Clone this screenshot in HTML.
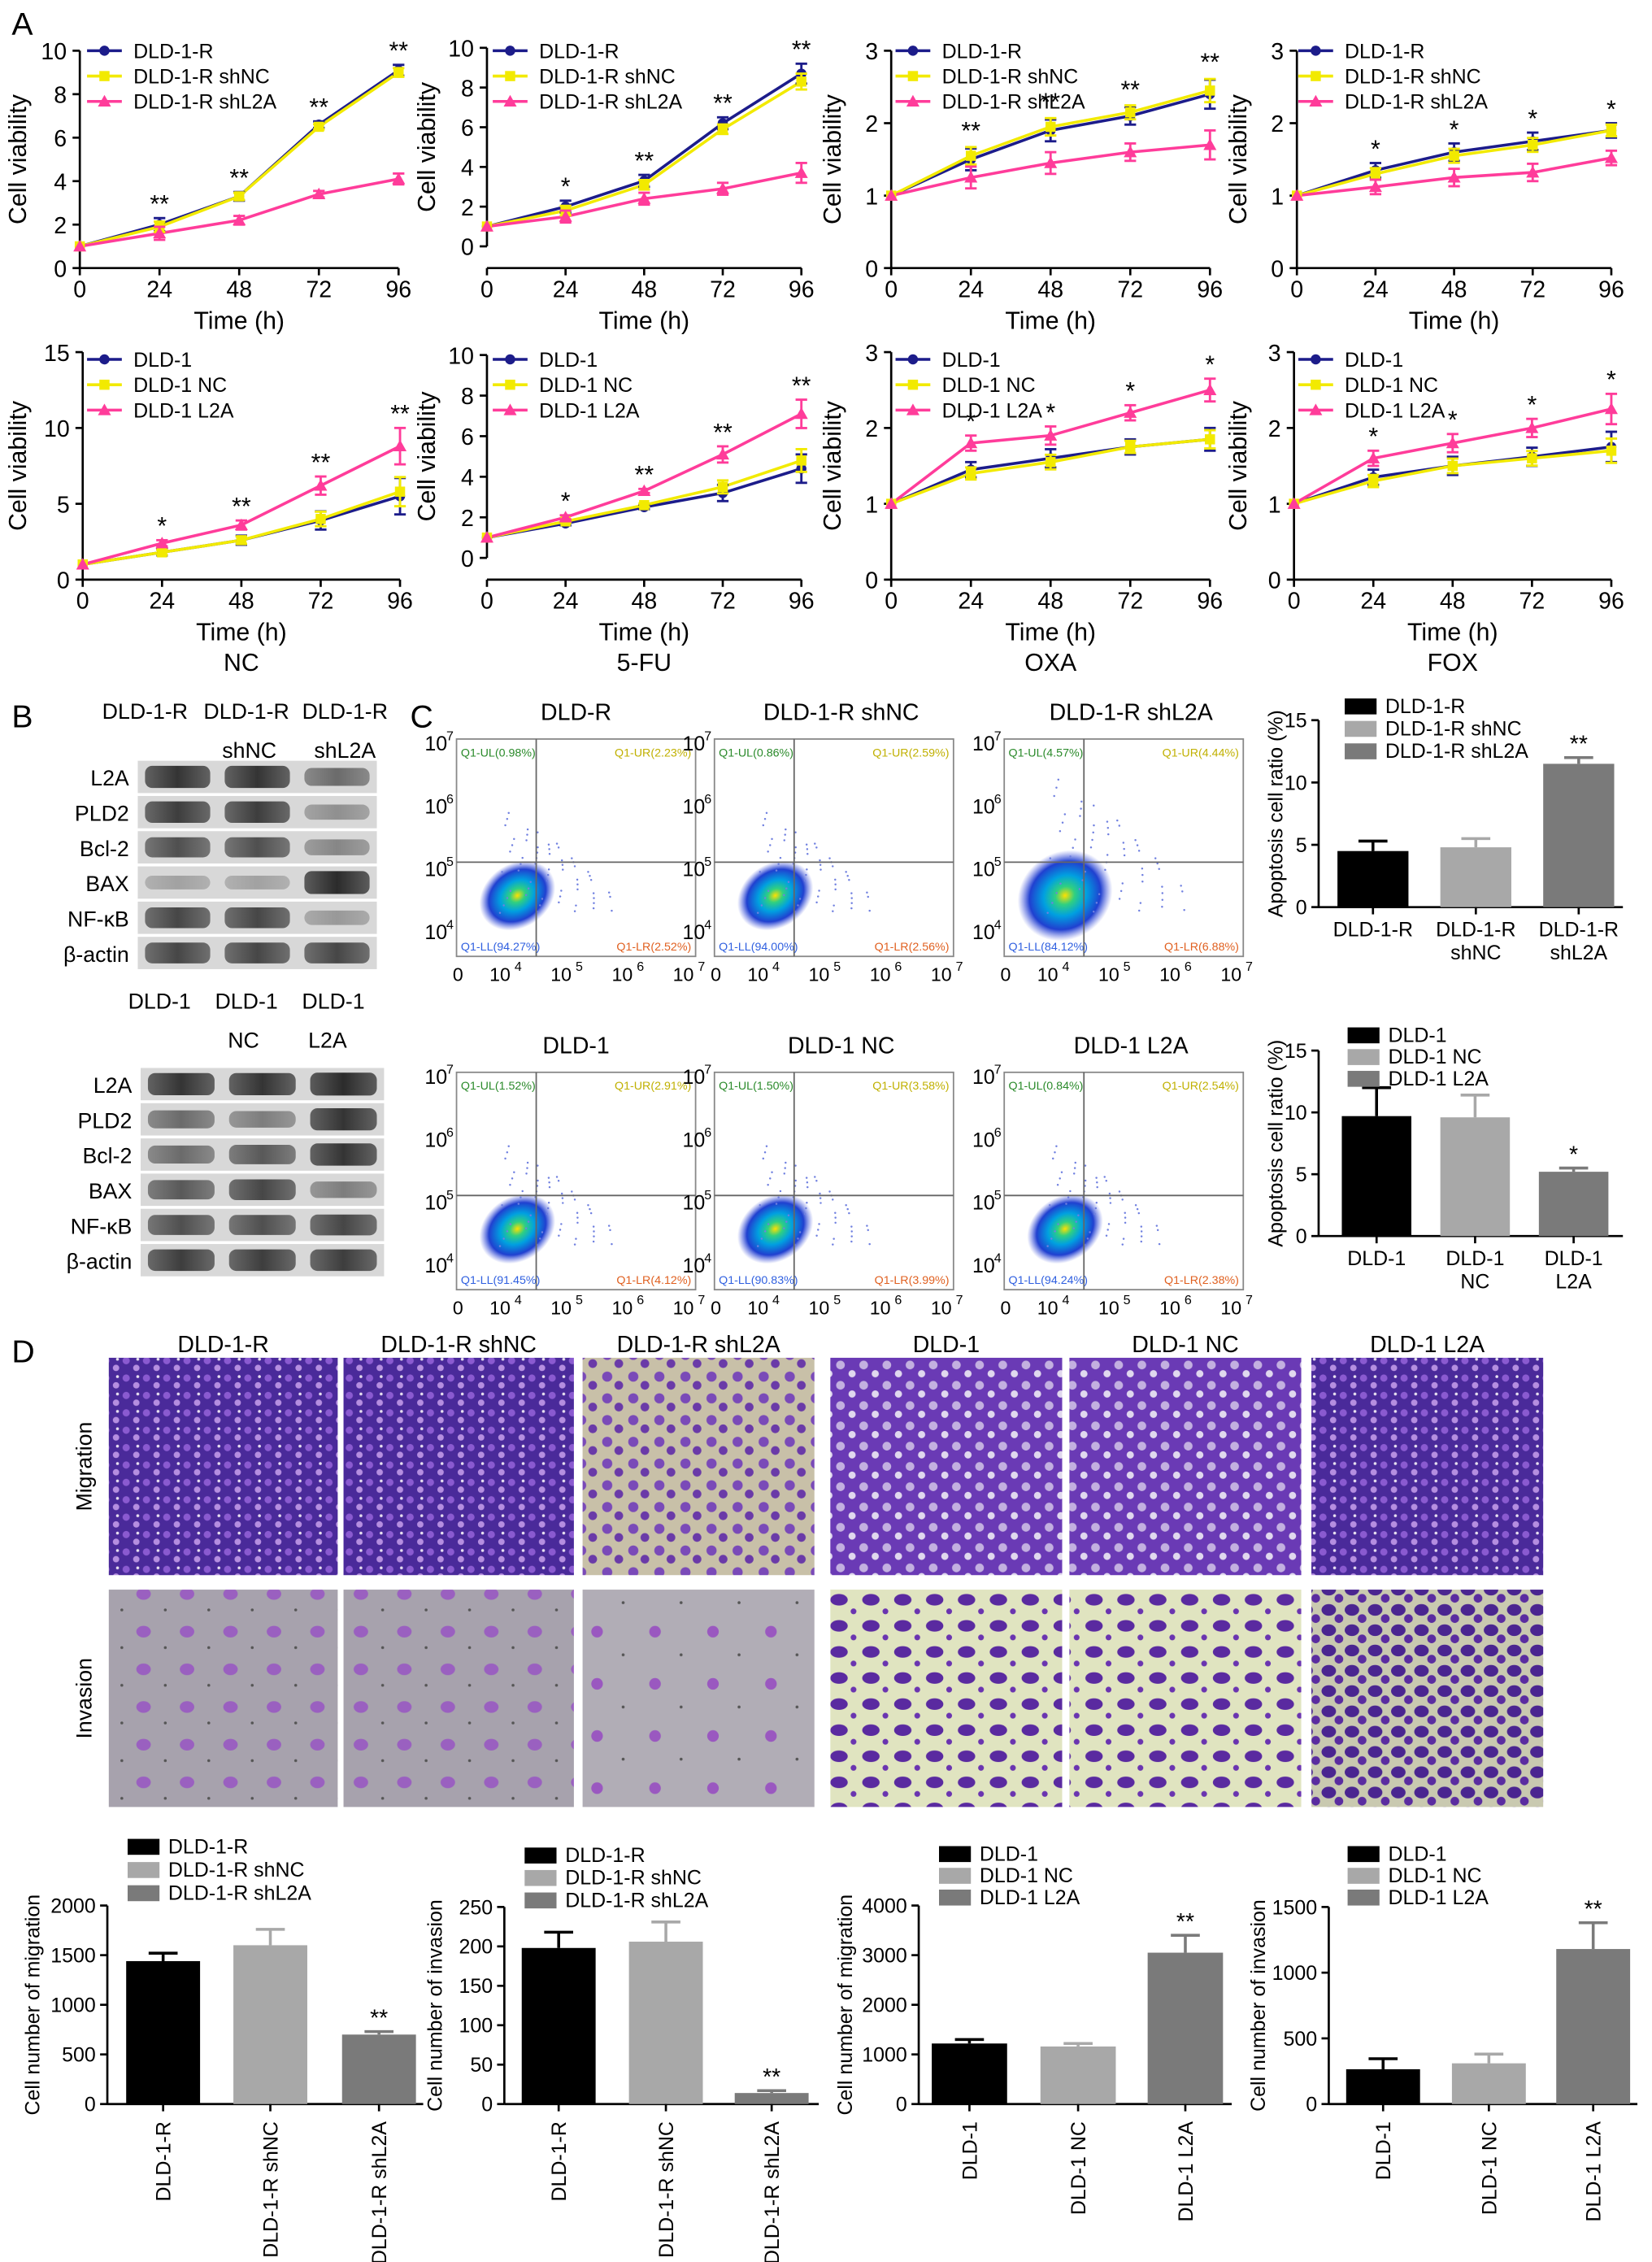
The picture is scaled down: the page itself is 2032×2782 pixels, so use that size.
<!DOCTYPE html>
<html><head><meta charset="utf-8"><style>
html,body{margin:0;padding:0;background:#fff;}
svg{display:block;font-family:"Liberation Sans",sans-serif;}
</style></head><body>
<svg id="fig" width="2032" height="2782" viewBox="0 0 1140 1561" xmlns="http://www.w3.org/2000/svg">
<defs>
<pattern id="densePurple" width="14" height="12" patternUnits="userSpaceOnUse">
<rect width="14" height="12" fill="#4a2a9a"/><circle cx="3" cy="3" r="2.5" fill="#8a5ad0"/><circle cx="10" cy="8" r="2.2" fill="#b58ee0"/><circle cx="11" cy="2" r="1" fill="#e8e0f0"/></pattern>
<pattern id="medPurple" width="16" height="14" patternUnits="userSpaceOnUse">
<rect width="16" height="14" fill="#6a3ab5"/><circle cx="4" cy="4" r="3" fill="#c3b0e0"/><circle cx="12" cy="10" r="2.5" fill="#e0d8ee"/></pattern>
<pattern id="lightPurple" width="18" height="15" patternUnits="userSpaceOnUse">
<rect width="18" height="15" fill="#c8c0a8"/><circle cx="5" cy="5" r="3.5" fill="#7a4ab8"/><circle cx="13" cy="11" r="3" fill="#6a3aa8"/></pattern>
<pattern id="grayInv" width="30" height="26" patternUnits="userSpaceOnUse">
<rect width="30" height="26" fill="#a7a2ad"/><ellipse cx="9" cy="8" rx="5" ry="4" fill="#9a60c0"/><circle cx="24" cy="19" r="1" fill="#555"/></pattern>
<pattern id="grayInvLight" width="40" height="36" patternUnits="userSpaceOnUse">
<rect width="40" height="36" fill="#b1adb6"/><circle cx="12" cy="10" r="4" fill="#9a58c0"/><circle cx="30" cy="26" r="1" fill="#555"/></pattern>
<pattern id="yellowInv" width="22" height="18" patternUnits="userSpaceOnUse">
<rect width="22" height="18" fill="#e0e4c0"/><ellipse cx="7" cy="6" rx="6" ry="4" fill="#5a2aa0"/><circle cx="17" cy="14" r="2" fill="#6a34b0"/></pattern>
<pattern id="yellowInvDense" width="16" height="14" patternUnits="userSpaceOnUse">
<rect width="16" height="14" fill="#c9c9b0"/><ellipse cx="5" cy="5" rx="5" ry="4" fill="#4a2590"/><circle cx="12" cy="11" r="3" fill="#5a2ca0"/></pattern>
<radialGradient id="flowBlob"><stop offset="0" stop-color="#ffe000"/><stop offset="0.2" stop-color="#30d080"/><stop offset="0.45" stop-color="#00a0e0"/><stop offset="0.75" stop-color="#2040d0"/><stop offset="1" stop-color="#5060e0" stop-opacity="0"/></radialGradient>
<linearGradient id="band" x1="0" x2="1"><stop offset="0" stop-color="#555"/><stop offset="0.5" stop-color="#222"/><stop offset="1" stop-color="#555"/></linearGradient>
</defs>
</svg>
<script>
const NS='http://www.w3.org/2000/svg';
const svg=document.getElementById('fig');
function mk(tag,attrs,parent){const e=document.createElementNS(NS,tag);for(const k in attrs)e.setAttribute(k,attrs[k]);(parent||svg).appendChild(e);return e;}
function tx(x,y,s,size,anchor,parent,extra){const e=mk('text',Object.assign({x:x,y:y,'font-size':size,'text-anchor':anchor||'middle',fill:'#000'},extra||{}),parent);e.textContent=s;return e;}

/* ===== Panel A data ===== */
const timePoints=[0,24,48,72,96];
const a1R=[1,2.0,3.3,6.6,9.1], a1NC=[1,1.9,3.3,6.5,9.0], a1KD=[1,1.6,2.2,3.4,4.1], a1Err=[0,0.3,0.2,0.15,0.25], a1Stars=['','**','**','**','**'];
const a2R=[1,2.0,3.3,6.2,8.7], a2NC=[1,1.8,3.1,5.9,8.3], a2KD=[1,1.5,2.4,2.9,3.7], a2Err=[0,0.3,0.3,0.3,0.5], a2Stars=['','*','**','**','**'];
const a3R=[1,1.5,1.9,2.1,2.4], a3NC=[1,1.55,1.95,2.15,2.45], a3KD=[1,1.25,1.45,1.6,1.7], a3Err=[0,0.15,0.15,0.12,0.2], a3Stars=['','**','**','**','**'];
const a4R=[1,1.35,1.6,1.75,1.9], a4NC=[1,1.3,1.55,1.7,1.9], a4KD=[1,1.12,1.25,1.32,1.52], a4Err=[0,0.1,0.12,0.12,0.1], a4Stars=['','*','*','*','*'];
const a5R=[1,1.8,2.6,3.9,5.5], a5NC=[1,1.8,2.6,4.0,5.8], a5KD=[1,2.4,3.6,6.2,8.8], a5Err=[0,0.2,0.3,0.6,1.2], a5Stars=['','*','**','**','**'];
const a6R=[1,1.7,2.5,3.2,4.4], a6NC=[1,1.8,2.6,3.5,4.8], a6KD=[1,2.0,3.3,5.1,7.1], a6Err=[0,0.1,0.1,0.4,0.7], a6Stars=['','*','**','**','**'];
const a7R=[1,1.45,1.6,1.75,1.85], a7NC=[1,1.4,1.55,1.75,1.85], a7KD=[1,1.8,1.9,2.2,2.5], a7Err=[0,0.1,0.12,0.1,0.15], a7Stars=['','*','*','*','*'];
const a8R=[1,1.35,1.5,1.62,1.75], a8NC=[1,1.3,1.5,1.6,1.7], a8KD=[1,1.6,1.8,2.0,2.25], a8Err=[0,0.1,0.12,0.12,0.2], a8Stars=['','*','*','*','*'];
const legendTop=['DLD-1-R','DLD-1-R shNC','DLD-1-R shL2A'];
const legendBottom=['DLD-1','DLD-1 NC','DLD-1 L2A'];
const yTicks10=[0,2,4,6,8,10], yTicks3=[0,1,2,3], yTicks15=[0,5,10,15];
const drugLabels=['NC','5-FU','OXA','FOX'];

const lineColors=['#1c1c8a','#f2ea00','#ff3c9a'];
const lineCharts=[
 {name:'chart-1r-nc',x0:55,x1:275,yz:185,yt:35,ymax:10,ax:185,ticks:yTicks10,s:[a1R,a1NC,a1KD],err:a1Err,stars:a1Stars,leg:legendTop,lx:70,ly:35,ylx:18},
 {name:'chart-1r-5fu',x0:336,x1:553,yz:170,yt:33,ymax:10,ax:185,ticks:yTicks10,s:[a2R,a2NC,a2KD],err:a2Err,stars:a2Stars,leg:legendTop,lx:350,ly:35,ylx:300},
 {name:'chart-1r-oxa',x0:615,x1:835,yz:185,yt:35,ymax:3,ax:185,ticks:yTicks3,s:[a3R,a3NC,a3KD],err:a3Err,stars:a3Stars,leg:legendTop,lx:628,ly:35,ylx:580},
 {name:'chart-1r-fox',x0:895,x1:1112,yz:185,yt:35,ymax:3,ax:185,ticks:yTicks3,s:[a4R,a4NC,a4KD],err:a4Err,stars:a4Stars,leg:legendTop,lx:906,ly:35,ylx:860},
 {name:'chart-1-nc',x0:57,x1:276,yz:400,yt:243,ymax:15,ax:400,ticks:yTicks15,s:[a5R,a5NC,a5KD],err:a5Err,stars:a5Stars,leg:legendBottom,lx:70,ly:248,ylx:18,drug:0},
 {name:'chart-1-5fu',x0:336,x1:553,yz:385,yt:245,ymax:10,ax:400,ticks:yTicks10,s:[a6R,a6NC,a6KD],err:a6Err,stars:a6Stars,leg:legendBottom,lx:350,ly:248,ylx:300,drug:1},
 {name:'chart-1-oxa',x0:615,x1:835,yz:400,yt:243,ymax:3,ax:400,ticks:yTicks3,s:[a7R,a7NC,a7KD],err:a7Err,stars:a7Stars,leg:legendBottom,lx:628,ly:248,ylx:580,drug:2},
 {name:'chart-1-fox',x0:893,x1:1112,yz:400,yt:243,ymax:3,ax:400,ticks:yTicks3,s:[a8R,a8NC,a8KD],err:a8Err,stars:a8Stars,leg:legendBottom,lx:906,ly:248,ylx:860,drug:3}
];
function marker(g,kind,x,y,c){
 if(kind===0)return mk('circle',{cx:x,cy:y,r:3.5,fill:c},g);
 if(kind===1)return mk('rect',{x:x-3.5,y:y-3.5,width:7,height:7,fill:c},g);
 return mk('polygon',{points:`${x},${y-4.5} ${x+4.5},${y+3.5} ${x-4.5},${y+3.5}`,fill:c},g);
}
lineCharts.forEach(c=>{
 const g=mk('g',{});
 
 
 const X=t=>c.x0+(t/96)*(c.x1-c.x0);
 const Y=v=>c.yz-(v/c.ymax)*(c.yz-c.yt);
 mk('line',{x1:c.x0,y1:c.ax,x2:c.x1,y2:c.ax,stroke:'#000','stroke-width':1.5},g);
 mk('line',{x1:c.x0,y1:Y(c.ymax),x2:c.x0,y2:c.yz,stroke:'#000','stroke-width':1.5},g);
 timePoints.forEach(t=>{mk('line',{x1:X(t),y1:c.ax,x2:X(t),y2:c.ax+5,stroke:'#000','stroke-width':1.5},g);
  const l=tx(X(t),c.ax+20,String(t),16,'middle',g);});
 c.ticks.forEach(v=>{mk('line',{x1:c.x0-5,y1:Y(v),x2:c.x0,y2:Y(v),stroke:'#000','stroke-width':1.5},g);
  const l=tx(c.x0-9,Y(v)+6,String(v),16,'end',g);});
 const xt=tx((c.x0+c.x1)/2,c.ax+42,'Time (h)',17,'middle',g);
 
 const my=(Y(c.ymax)+c.yz)/2;
 const yt=tx(c.ylx,my,'Cell viability',17,'middle',g,{transform:`rotate(-90 ${c.ylx} ${my})`});
 
 if(c.drug!==undefined){const d=tx((c.x0+c.x1)/2,c.ax+63,drugLabels[c.drug],17,'middle',g);}
 c.s.forEach((arr,si)=>{
  const pts=arr.map((v,i)=>X(timePoints[i])+','+Y(v)).join(' ');
  const pl=mk('polyline',{points:pts,fill:'none',stroke:lineColors[si],'stroke-width':2},g);
  
 });
 c.s.forEach((arr,si)=>{
  arr.forEach((v,i)=>{const e=c.err[i]*(si===1?0.8:1);const x=X(timePoints[i]);
   if(e>0){mk('line',{x1:x,y1:Y(v-e),x2:x,y2:Y(v+e),stroke:lineColors[si],'stroke-width':1.6},g);
    mk('line',{x1:x-4,y1:Y(v+e),x2:x+4,y2:Y(v+e),stroke:lineColors[si],'stroke-width':1.6},g);
    mk('line',{x1:x-4,y1:Y(v-e),x2:x+4,y2:Y(v-e),stroke:lineColors[si],'stroke-width':1.6},g);}
   const m=marker(g,si,x,Y(v),lineColors[si]);});
 });
 c.stars.forEach((s,i)=>{if(!s)return;const top=Math.max(...c.s.map(a=>a[i]))+c.err[i];
  const st=tx(X(timePoints[i]),Y(top)-4,s,17,'middle',g);});
 c.leg.forEach((n,i)=>{const y=c.ly+i*17.5;
  mk('line',{x1:c.lx-10,y1:y,x2:c.lx+14,y2:y,stroke:lineColors[i],'stroke-width':2},g);
  marker(g,i,c.lx+2,y,lineColors[i]);
  const l=tx(c.lx+22,y+5,n,14,'start',g);});
});

/* panel letters */
[['A',8,24],['B',8,502],['C',283,502],['D',8,940]].forEach(p=>{const t=tx(p[1],p[2],p[0],22,'start');});

/* ===== Panel B western blots ===== */
const blotLabels=['L2A','PLD2','Bcl-2','BAX','NF-κB','β-actin'];
const blotTopInt=[[0.9,0.9,0.6],[0.85,0.85,0.4],[0.75,0.75,0.45],[0.3,0.3,0.95],[0.8,0.8,0.35],[0.8,0.8,0.8]];
const blotBotInt=[[0.9,0.9,0.95],[0.6,0.5,0.9],[0.6,0.7,0.9],[0.7,0.8,0.5],[0.75,0.75,0.8],[0.85,0.85,0.85]];
function blot(name,x,y,w,rowH,ints,headers1,headers2,hx1,hx2,hy,hy2){
 const g=mk('g',{});
 
 
 headers1.forEach((h,i)=>{const t=tx(hx1[i],hy,h,15,'middle',g);});
 headers2.forEach((h,i)=>{if(h){const t=tx(hx2[i],hy2,h,15,'middle',g);}});
 ints.forEach((row,r)=>{const yy=y+r*rowH;
  mk('rect',{x:x,y:yy,width:w,height:rowH-2,fill:'#d8d8d8'},g);
  const l=tx(x-6,yy+rowH/2+5,blotLabels[r],15,'end',g);
  row.forEach((v,i)=>{const bh=(rowH-8)*(0.4+0.6*v);
   const b=mk('rect',{x:x+i*w/3+5,y:yy+(rowH-2-bh)/2,width:w/3-10,height:bh,rx:5,fill:'url(#band)',opacity:v},g);
   });
 });
}
blot('western-blot-resistant',95,525,165,24.3,blotTopInt,['DLD-1-R','DLD-1-R','DLD-1-R'],['','shNC','shL2A'],[100,170,238],[0,172,238],496,523);
blot('western-blot-parental',97,737,168,24.3,blotBotInt,['DLD-1','DLD-1','DLD-1'],['','NC','L2A'],[110,170,230],[0,168,226],696,723);

/* ===== Panel C flow cytometry ===== */
const flowTitles=['DLD-R','DLD-1-R shNC','DLD-1-R shL2A','DLD-1','DLD-1 NC','DLD-1 L2A'];
const flowUL=['Q1-UL(0.98%)','Q1-UL(0.86%)','Q1-UL(4.57%)','Q1-UL(1.52%)','Q1-UL(1.50%)','Q1-UL(0.84%)'];
const flowUR=['Q1-UR(2.23%)','Q1-UR(2.59%)','Q1-UR(4.44%)','Q1-UR(2.91%)','Q1-UR(3.58%)','Q1-UR(2.54%)'];
const flowLL=['Q1-LL(94.27%)','Q1-LL(94.00%)','Q1-LL(84.12%)','Q1-LL(91.45%)','Q1-LL(90.83%)','Q1-LL(94.24%)'];
const flowLR=['Q1-LR(2.52%)','Q1-LR(2.56%)','Q1-LR(6.88%)','Q1-LR(4.12%)','Q1-LR(3.99%)','Q1-LR(2.38%)'];
const flowPos=[[315,510],[493,510],[693,510],[315,740],[493,740],[693,740]];
const flowExp=['7','6','5','4'];
flowPos.forEach((p,i)=>{
 const g=mk('g',{});
 
 
 const x=p[0],y=p[1],w=165,h=150;
 tx(x+w/2+(i%3===0?0:5),y-13,flowTitles[i],16,'middle',g);
 mk('rect',{x:x,y:y,width:w,height:h,fill:'#fff',stroke:'#888','stroke-width':1},g);
 const big=i===2;
 mk('ellipse',{cx:x+42,cy:y+h-42,rx:big?34:28,ry:big?30:22,fill:'url(#flowBlob)',transform:`rotate(-35 ${x+42} ${y+h-42})`},g);
 for(let k=0;k<60;k++){const dx=((k*37)%100)/100, dy=((k*53)%100)/100;
  mk('circle',{cx:x+30+dx*(big?110:90)*(1-dy*0.5),cy:y+h-30-dy*(big?100:75)*(1-dx*0.4),r:0.7,fill:'#7080e0'},g);}
 mk('line',{x1:x+55,y1:y,x2:x+55,y2:y+h,stroke:'#666','stroke-width':1},g);
 mk('line',{x1:x,y1:y+85,x2:x+w,y2:y+85,stroke:'#666','stroke-width':1},g);
 tx(x+3,y+12,flowUL[i],8,'start',g,{fill:'#2a8a2a'});
 tx(x+w-3,y+12,flowUR[i],8,'end',g,{fill:'#c0b000'});
 tx(x+3,y+h-4,flowLL[i],8,'start',g,{fill:'#3060e0'});
 tx(x+w-3,y+h-4,flowLR[i],8,'end',g,{fill:'#e06020'});
 flowExp.forEach((e,k)=>{const yy=y+3+k*(h-20)/3;tx(x-22,yy+5,'10',14,'start',g);tx(x-7,yy-2,e,9,'start',g);});
 tx(x+1,y+h+17,'0',13,'middle',g);
 ['4','5','6','7'].forEach((e,k)=>{const xx=x+30+k*(w-30)/3.2;tx(xx,y+h+17,'10',13,'middle',g);tx(xx+10,y+h+10,e,9,'start',g);});
});

/* ===== Bar charts ===== */
const barBlack='#000', barLight='#a8a8a8', barMid='#7a7a7a';
const apopTopVals=[4.5,4.8,11.5], apopTopErr=[0.8,0.7,0.5], apopTopStars=['','','**'];
const apopBotVals=[9.7,9.6,5.2], apopBotErr=[2.3,1.8,0.3], apopBotStars=['','','*'];
const migRVals=[1440,1600,700], migRErr=[80,160,30], migRStars=['','','**'];
const invRVals=[198,206,14], invRErr=[20,25,3], invRStars=['','','**'];
const migPVals=[1220,1160,3050], migPErr=[80,60,350], migPStars=['','','**'];
const invPVals=[265,310,1180], invPErr=[80,70,200], invPStars=['','','**'];
const apopTicks=[0,5,10,15], migRTicks=[0,500,1000,1500,2000], invRTicks=[0,50,100,150,200,250], migPTicks=[0,1000,2000,3000,4000], invPTicks=[0,500,1000,1500];
const catR=['DLD-1-R','DLD-1-R shNC','DLD-1-R shL2A'], catP=['DLD-1','DLD-1 NC','DLD-1 L2A'];
const catR2=[['DLD-1-R'],['DLD-1-R','shNC'],['DLD-1-R','shL2A']], catP2=[['DLD-1'],['DLD-1','NC'],['DLD-1','L2A']];
const barFill=[barBlack,barLight,barMid];
const barCharts=[
 {name:'apoptosis-chart-resistant',ax:910,yz:626,yt:497,ymax:15,ticks:apopTicks,vals:apopTopVals,err:apopTopErr,stars:apopTopStars,bx:[923,994,1065],bw:49,leg:catR,lx:928,ly:492,ls:15.5,title:'Apoptosis cell ratio (%)',tlx:885,cats:catR2,rot:false,x2:1120},
 {name:'apoptosis-chart-parental',ax:910,yz:853,yt:725,ymax:15,ticks:apopTicks,vals:apopBotVals,err:apopBotErr,stars:apopBotStars,bx:[926,994,1062],bw:48,leg:catP,lx:930,ly:719,ls:15,title:'Apoptosis cell ratio (%)',tlx:885,cats:catP2,rot:false,x2:1120},
 {name:'migration-chart-resistant',ax:74,yz:1452,yt:1315,ymax:2000,ticks:migRTicks,vals:migRVals,err:migRErr,stars:migRStars,bx:[87,161,236],bw:51,leg:catR,lx:88,ly:1279,ls:16,title:'Cell number of migration',tlx:27,cats:catR,rot:true,x2:292},
 {name:'invasion-chart-resistant',ax:348,yz:1452,yt:1316,ymax:250,ticks:invRTicks,vals:invRVals,err:invRErr,stars:invRStars,bx:[360,434,507],bw:51,leg:catR,lx:362,ly:1285,ls:15.5,title:'Cell number of invasion',tlx:305,cats:catR,rot:true,x2:565},
 {name:'migration-chart-parental',ax:634,yz:1452,yt:1315,ymax:4000,ticks:migPTicks,vals:migPVals,err:migPErr,stars:migPStars,bx:[643,718,792],bw:52,leg:catP,lx:648,ly:1284,ls:15,title:'Cell number of migration',tlx:588,cats:catP,rot:true,x2:850},
 {name:'invasion-chart-parental',ax:917,yz:1452,yt:1316,ymax:1500,ticks:invPTicks,vals:invPVals,err:invPErr,stars:invPStars,bx:[929,1002,1074],bw:51,leg:catP,lx:930,ly:1284,ls:15,title:'Cell number of invasion',tlx:873,cats:catP,rot:true,x2:1130}
];
barCharts.forEach(c=>{
 const g=mk('g',{});
 
 
 const Y=v=>c.yz-(v/c.ymax)*(c.yz-c.yt);
 mk('line',{x1:c.ax,y1:c.yt,x2:c.ax,y2:c.yz,stroke:'#000','stroke-width':1.5},g);
 mk('line',{x1:c.ax,y1:c.yz,x2:c.x2,y2:c.yz,stroke:'#000','stroke-width':1.5},g);
 c.ticks.forEach(v=>{mk('line',{x1:c.ax-5,y1:Y(v),x2:c.ax,y2:Y(v),stroke:'#000','stroke-width':1.5},g);
  const l=tx(c.ax-8,Y(v)+5,String(v),14,'end',g);});
 const my=(c.yt+c.yz)/2;
 const t=tx(c.tlx,my,c.title,14,'middle',g,{transform:`rotate(-90 ${c.tlx} ${my})`});
 
 c.vals.forEach((v,i)=>{const x=c.bx[i];
  const b=mk('rect',{x:x,y:Y(v),width:c.bw,height:c.yz-Y(v),fill:barFill[i]},g);
  
  const cx=x+c.bw/2,e=c.err[i];
  mk('line',{x1:cx,y1:Y(v),x2:cx,y2:Y(v+e),stroke:barFill[i],'stroke-width':2},g);
  mk('line',{x1:cx-10,y1:Y(v+e),x2:cx+10,y2:Y(v+e),stroke:barFill[i],'stroke-width':2},g);
  if(c.stars[i]){const s=tx(cx,Y(v+e)-4,c.stars[i],16,'middle',g);}
  mk('line',{x1:cx,y1:c.yz,x2:cx,y2:c.yz+5,stroke:'#000','stroke-width':1.5},g);
  if(c.rot){const l=tx(cx+5,c.yz+12,c.cats[i],14,'end',g,{transform:`rotate(-90 ${cx+5} ${c.yz+12})`});}
  else{c.cats[i].forEach((ln,k)=>{const l=tx(cx,c.yz+20+k*16,ln,14,'middle',g);});}
 });
 c.leg.forEach((n,i)=>{const y=c.ly+i*c.ls;
  mk('rect',{x:c.lx,y:y-10,width:22,height:11,fill:barFill[i]},g);
  const l=tx(c.lx+28,y,n,14,'start',g);});
});

/* ===== Panel D micrographs ===== */
const micTitles=['DLD-1-R','DLD-1-R shNC','DLD-1-R shL2A','DLD-1','DLD-1 NC','DLD-1 L2A'];
const micX=[75,237,402,573,738,905];
const micW=[158,159,160,160,160,160];
const migFill=['url(#densePurple)','url(#densePurple)','url(#lightPurple)','url(#medPurple)','url(#medPurple)','url(#densePurple)'];
const invFill=['url(#grayInv)','url(#grayInv)','url(#grayInvLight)','url(#yellowInv)','url(#yellowInv)','url(#yellowInvDense)'];
micX.forEach((x,i)=>{
 const t=tx(x+micW[i]/2,933,micTitles[i],16,'middle');
 const a=mk('rect',{x:x,y:937,width:micW[i],height:150,fill:migFill[i]});
 
 const b=mk('rect',{x:x,y:1097,width:micW[i],height:150,fill:invFill[i]});
 
});
const mg=tx(63,1012,'Migration',15,'middle',null,{transform:'rotate(-90 63 1012)'});

const iv=tx(63,1172,'Invasion',15,'middle',null,{transform:'rotate(-90 63 1172)'});

</script>
</body></html>
